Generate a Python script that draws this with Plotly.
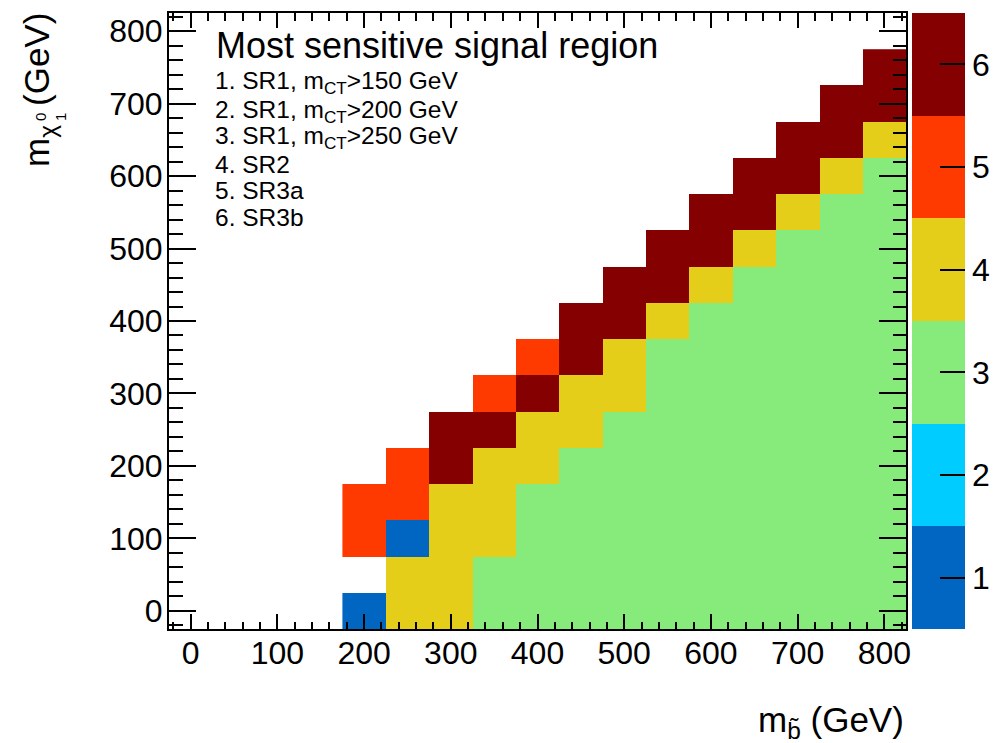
import plotly.graph_objects as go

# Signal grid: sbottom mass columns, LSP masses from 0 upward in 50 GeV steps,
# and the index of the most sensitive signal region at each grid point.
m_sbottom = [200, 250, 300, 350, 400, 450, 500, 550, 600, 650, 700, 750, 800]
m_lsp_step = 50
best_sr_by_column = {
    200: [1, None, 5, 5],
    250: [4, 4, 1, 5, 5],
    300: [4, 4, 4, 4, 6, 6],
    350: [3, 3, 4, 4, 4, 6, 5],
    400: [3, 3, 3, 3, 4, 4, 6, 5],
    450: [3, 3, 3, 3, 3, 4, 4, 6, 6],
    500: [3, 3, 3, 3, 3, 3, 4, 4, 6, 6],
    550: [3, 3, 3, 3, 3, 3, 3, 3, 4, 6, 6],
    600: [3, 3, 3, 3, 3, 3, 3, 3, 3, 4, 6, 6],
    650: [3, 3, 3, 3, 3, 3, 3, 3, 3, 3, 4, 6, 6],
    700: [3, 3, 3, 3, 3, 3, 3, 3, 3, 3, 3, 4, 6, 6],
    750: [3, 3, 3, 3, 3, 3, 3, 3, 3, 3, 3, 3, 4, 6, 6],
    800: [3, 3, 3, 3, 3, 3, 3, 3, 3, 3, 3, 3, 3, 4, 6, 6],
}

region_labels = [
    "1. SR1, m<sub>CT</sub>>150 GeV",
    "2. SR1, m<sub>CT</sub>>200 GeV",
    "3. SR1, m<sub>CT</sub>>250 GeV",
    "4. SR2",
    "5. SR3a",
    "6. SR3b",
]
region_colors = ["#0066c2", "#00ccff", "#86eb7b", "#e4ce19", "#ff3a00", "#850000"]
axis_ticks = [0, 100, 200, 300, 400, 500, 600, 700, 800]
colorbar_ticks = [1, 2, 3, 4, 5, 6]

# flatten the columns into point lists for the heatmap
xs, ys, zs = [], [], []
for mb in m_sbottom:
    for i, sr in enumerate(best_sr_by_column[mb]):
        if sr is None:
            continue
        xs.append(mb)
        ys.append(i * m_lsp_step)
        zs.append(sr)

# stepped colour scale, one flat band per region index
n = len(region_colors)
colorscale = []
for i, c in enumerate(region_colors):
    colorscale.append([i / n, c])
    colorscale.append([(i + 1) / n, c])

FONT = "Liberation Sans, Arial, Helvetica, sans-serif"
W, H = 993, 743
L, R, T, B = 169, 87, 13, 114
PW, PH = W - L - R, H - T - B


def px(x):
    return (x - L) / PW


def py(y):
    return (H - B - y) / PH


fig = go.Figure()
fig.add_trace(go.Heatmap(
    x=xs, y=ys, z=zs,
    zmin=0.5, zmax=6.5,
    colorscale=colorscale,
    connectgaps=False,
    hoverongaps=False,
    colorbar=dict(
        thickness=53, thicknessmode="pixels",
        len=1, lenmode="fraction",
        x=912 / W, xref="container", xanchor="left", xpad=0,
        y=0.5, yanchor="middle", ypad=0,
        outlinewidth=0,
        tickmode="array", tickvals=colorbar_ticks,
        ticks="inside", ticklen=25, tickwidth=1.5, tickcolor="black",
        tickfont=dict(family=FONT, size=32, color="black"),
    ),
))

axis_common = dict(
    range=[-25, 825],
    tickmode="array", tickvals=axis_ticks,
    ticks="inside", tickwidth=1.5, tickcolor="black",
    showline=True, linewidth=2, linecolor="black", mirror="allticks",
    showgrid=False, zeroline=False,
    tickfont=dict(family=FONT, size=32, color="black"),
)
fig.update_xaxes(**axis_common, ticklen=15, ticklabelstandoff=-5,
                 minor=dict(dtick=20, tick0=0, ticks="inside", ticklen=7.5,
                            tickwidth=1.5, tickcolor="black", showgrid=False))
fig.update_yaxes(**axis_common, ticklen=27, ticklabelstandoff=-2,
                 minor=dict(dtick=20, tick0=0, ticks="inside", ticklen=13.5,
                            tickwidth=1.5, tickcolor="black", showgrid=False))

annotations = [
    dict(text="Most sensitive signal region", x=px(215), y=py(57 - 0.905 * 36),
         xanchor="left", yanchor="top", font=dict(family=FONT, size=36, color="black")),
]
baselines = [88, 117, 143, 172, 198, 225]
for label, base in zip(region_labels, baselines):
    annotations.append(dict(text=label, x=px(214), y=py(base - 0.905 * 24.5),
                            xanchor="left", yanchor="top",
                            font=dict(family=FONT, size=24.5, color="black")))

# x-axis title, right aligned at the end of the axis
annotations.append(dict(text="m<sub>b\u0303</sub> (GeV)", x=px(905), y=py(731 - 0.905 * 35),
                        xanchor="right", yanchor="top",
                        font=dict(family=FONT, size=35, color="black")))
# y-axis title, rotated, top aligned at the end of the axis;
# the neutralino indices 0 (upper) and 1 (lower) are stacked after the chi
annotations.append(dict(text="(GeV)", x=px(16), y=py(12),
                        xanchor="left", yanchor="top", textangle=-90,
                        font=dict(family=FONT, size=35, color="black")))
annotations.append(dict(text="m<sub>\u03c7</sub>", x=px(16), y=py(168),
                        xanchor="left", yanchor="bottom", textangle=-90,
                        font=dict(family=FONT, size=35, color="black")))
annotations.append(dict(text="0", x=px(41), y=py(117),
                        xanchor="center", yanchor="middle", textangle=-90,
                        font=dict(family=FONT, size=15, color="black")))
annotations.append(dict(text="1", x=px(61), y=py(117),
                        xanchor="center", yanchor="middle", textangle=-90,
                        font=dict(family=FONT, size=15, color="black")))
for a in annotations:
    a.update(xref="paper", yref="paper", showarrow=False, borderpad=0)

fig.update_layout(
    width=W, height=H,
    margin=dict(l=L, r=R, t=T, b=B, autoexpand=False),
    paper_bgcolor="white", plot_bgcolor="white",
    font=dict(family=FONT, color="black"),
    annotations=annotations,
    showlegend=False,
)

fig.write_html("out.html")
